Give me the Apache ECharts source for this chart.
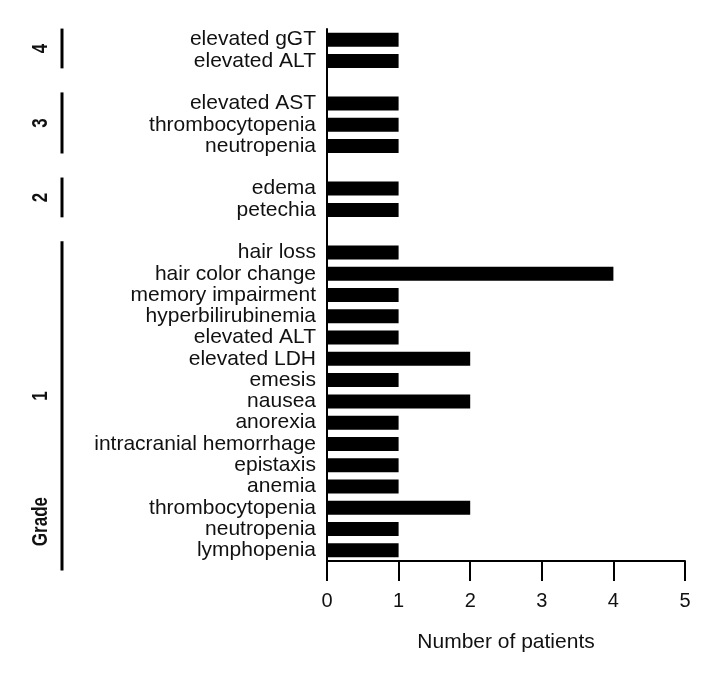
<!DOCTYPE html>
<html>
<head>
<meta charset="utf-8">
<script src="https://cdn.jsdelivr.net/npm/echarts@6/dist/echarts.min.js"></script>
<style>html,body{margin:0;padding:0;background:#fff}#c{width:720px;height:676px}</style>
</head>
<body>
<div id="c"></div>
<script>
const categories = ['elevated gGT','elevated ALT','','elevated AST','thrombocytopenia','neutropenia','','edema','petechia','','hair loss','hair color change','memory impairment','hyperbilirubinemia','elevated ALT','elevated LDH','emesis','nausea','anorexia','intracranial hemorrhage','epistaxis','anemia','thrombocytopenia','neutropenia','lymphopenia'];
const patients = [1,1,null,1,1,1,null,1,1,null,1,4,1,1,1,2,1,2,1,1,1,1,2,1,1];
const xTicks = [0,1,2,3,4,5];
const gradeLabels = ['4','3','2','1'];
const gradeFirst = [0,3,7,10];
const gradeLast = [1,5,8,24];
const gradeTitle = 'Grade';
const xTitle = 'Number of patients';

const keys = categories.map((c,i)=> i + '|' + c);
const FONT = 'Liberation Sans, Arial, sans-serif';
const chart = echarts.init(document.getElementById('c'));
chart.setOption({
  animation:false,
  backgroundColor:'#fff',
  grid:{left:327,right:35,top:29,bottom:115,containLabel:false},
  xAxis:{type:'value',min:xTicks[0],max:xTicks[xTicks.length-1],interval:1,
    axisLine:{show:true,lineStyle:{color:'#000',width:2}},
    axisTick:{show:true,length:20,lineStyle:{color:'#000',width:2}},
    axisLabel:{margin:30,fontSize:20,color:'#111',fontFamily:FONT},
    splitLine:{show:false},
    name:xTitle,nameLocation:'middle',nameGap:71,
    nameTextStyle:{fontSize:21,color:'#111',fontFamily:FONT}},
  yAxis:{type:'category',data:keys,inverse:true,
    axisLine:{show:true,lineStyle:{color:'#000',width:2}},
    axisTick:{show:false},
    axisLabel:{interval:0,margin:11,fontSize:21,color:'#111',fontFamily:FONT,
      formatter:v=>v.slice(v.indexOf('|')+1)}},
  series:[{type:'bar',data:patients,barWidth:14,itemStyle:{color:'#000'}}]
});

const step = chart.convertToPixel({yAxisIndex:0}, keys[1]) - chart.convertToPixel({yAxisIndex:0}, keys[0]);
const g = [];
const bx = 62, lx = 41;
gradeLabels.forEach((lab,k)=>{
  const y1 = chart.convertToPixel({yAxisIndex:0}, keys[gradeFirst[k]]) - step*0.52;
  let y2 = chart.convertToPixel({yAxisIndex:0}, keys[gradeLast[k]]) + step*0.35;
  if (k===3) y2 += step*0.6;
  g.push({type:'line',shape:{x1:bx,y1:y1,x2:bx,y2:y2},style:{stroke:'#000',lineWidth:3}});
  let cy = (y1+y2)/2;
  if (k===3) cy -= 10;
  g.push({type:'text',x:lx,y:cy,rotation:Math.PI/2,scaleY:1.25,
    style:{text:lab,fontSize:17,fontWeight:'bold',fill:'#111',fontFamily:FONT,align:'center',verticalAlign:'middle'}});
  if (k===3) {
    g.push({type:'text',x:lx,y:y2-49,rotation:Math.PI/2,scaleY:1.25,
      style:{text:gradeTitle,fontSize:17,fontWeight:'bold',fill:'#111',fontFamily:FONT,align:'center',verticalAlign:'middle'}});
  }
});
chart.setOption({graphic:g});
</script>
</body>
</html>
